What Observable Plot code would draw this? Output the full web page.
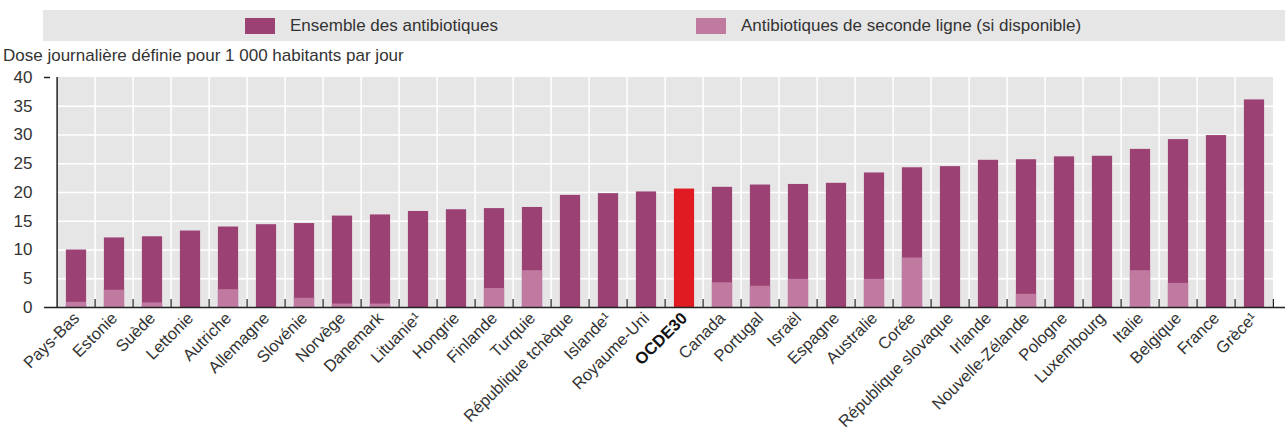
<!DOCTYPE html>
<html>
<head>
<meta charset="utf-8">
<script src="https://cdn.jsdelivr.net/npm/d3@7"></script>
<script src="https://cdn.jsdelivr.net/npm/@observablehq/plot@0.6"></script>
<style>
  html, body { margin: 0; padding: 0; background: #fff; }
  body { width: 1288px; height: 432px; overflow: hidden; font-family: "Liberation Sans Narrow", "Arial Narrow", "Liberation Sans", sans-serif; color: #333; }
  #header { position: relative; height: 66px; }
  #legend { position: absolute; left: 43px; top: 10px; width: 1242px; height: 31px; background: #e6e6e6; }
  .item { position: absolute; top: 0; height: 31px; display: flex; align-items: center; font-size: 17px; color: #333; }
  .sw { width: 30px; height: 16px; margin-right: 15px; }
  #ylab { position: absolute; left: 3px; top: 46px; font-size: 17px; color: #333; white-space: nowrap; }
</style>
</head>
<body>
<div id="header">
  <div id="legend">
    <div class="item" style="left:202px"><span class="sw" style="background:#9c4174"></span>Ensemble des antibiotiques</div>
    <div class="item" style="left:653px"><span class="sw" style="background:#c07a9f"></span>Antibiotiques de seconde ligne (si disponible)</div>
  </div>
  <div id="ylab">Dose journalière définie pour 1 000 habitants par jour</div>
</div>
<div id="chart"></div>
<script>
const pays = ["Pays-Bas","Estonie","Suède","Lettonie","Autriche","Allemagne","Slovénie","Norvège","Danemark","Lituanie¹","Hongrie","Finlande","Turquie","République tchèque","Islande¹","Royaume-Uni","OCDE30","Canada","Portugal","Israël","Espagne","Australie","Corée","République slovaque","Irlande","Nouvelle-Zélande","Pologne","Luxembourg","Italie","Belgique","France","Grèce¹"];
const ensemble = [10.0,12.1,12.3,13.3,14.0,14.4,14.6,15.9,16.1,16.7,17.0,17.2,17.4,19.5,19.8,20.1,20.6,20.9,21.3,21.4,21.6,23.4,24.3,24.5,25.6,25.7,26.2,26.3,27.5,29.2,29.9,36.1];
const secondeLigne = [0.9,3.0,0.8,null,3.1,null,1.6,0.6,0.6,null,null,3.3,6.4,null,null,null,null,4.3,3.7,4.9,null,4.9,8.6,null,null,2.3,null,null,6.4,4.2,null,null];
const yTicks = [0,5,10,15,20,25,30,35,40];

const rows = pays.map((p, i) => ({pays: p, total: ensemble[i], second: secondeLigne[i]}));
const rowsSecond = rows.filter(d => d.second != null);

const W = 1288, H = 366, mL = 44, mR = 3, mT = 11, mB = 125;
const bw = (W - mL - mR) / pays.length;
const inset = (bw - 21) / 2;
const dark = "#9c4174", light = "#c07a9f", red = "#e01b22";
const font = '"Liberation Sans Narrow", "Arial Narrow", "Liberation Sans", sans-serif';

const chart = Plot.plot({
  width: W, height: H,
  marginLeft: mL, marginRight: mR, marginTop: mT, marginBottom: mB,
  style: {fontFamily: font, fontSize: "17px", color: "#333", background: "white"},
  x: {domain: pays, padding: 0, align: 0.5},
  y: {domain: [0, 40]},
  marks: [
    Plot.barY(pays, {x: d => d, y1: 0, y2: 40, fill: "#e6e6e6", inset: 0}),
    Plot.ruleY(yTicks.filter(v => v > 0 && v < 40), {stroke: "white", strokeWidth: 1.5}),
    Plot.ruleX(pays.slice(1), {x: d => d, y1: 0, y2: 40, dx: -bw / 2, stroke: "white", strokeWidth: 1.5}),
    Plot.barY(rows, {x: "pays", y: "total", fill: d => d.pays === "OCDE30" ? red : dark, insetLeft: inset, insetRight: inset}),
    Plot.barY(rowsSecond, {x: "pays", y: "second", fill: light, insetLeft: inset, insetRight: inset}),
    Plot.ruleX(pays.slice(1), {x: d => d, y1: 0, y2: 1.4, dx: -bw / 2, stroke: "#222", strokeWidth: 1.2}),
    Plot.ruleY([0], {stroke: "#222", strokeWidth: 1.5}),
    Plot.ruleX([pays[0]], {x: d => d, y1: 0, y2: 40, dx: -bw / 2, stroke: "#222", strokeWidth: 1.5}),
    Plot.ruleX([pays[pays.length - 1]], {x: d => d, y1: 0, y2: 1.4, dx: bw / 2 - 0.5, stroke: "#222", strokeWidth: 1.2}),
    Plot.axisY({ticks: [40], tickSize: -6, tickFormat: () => "", stroke: "#222", strokeWidth: 1.5}),
    Plot.axisY({ticks: yTicks, tickSize: 0, tickPadding: 12, label: null, fill: "#333", fontSize: 17}),
    Plot.axisX({tickSize: 0, tickPadding: 8, tickRotate: -45, label: null, fill: "#333", fontSize: 16.5})
  ]
});
document.getElementById("chart").appendChild(chart);
d3.select(chart).selectAll("text").filter(function() { return this.textContent === "OCDE30"; }).attr("font-weight", "bold").attr("fill", "#111");
</script>
</body>
</html>
